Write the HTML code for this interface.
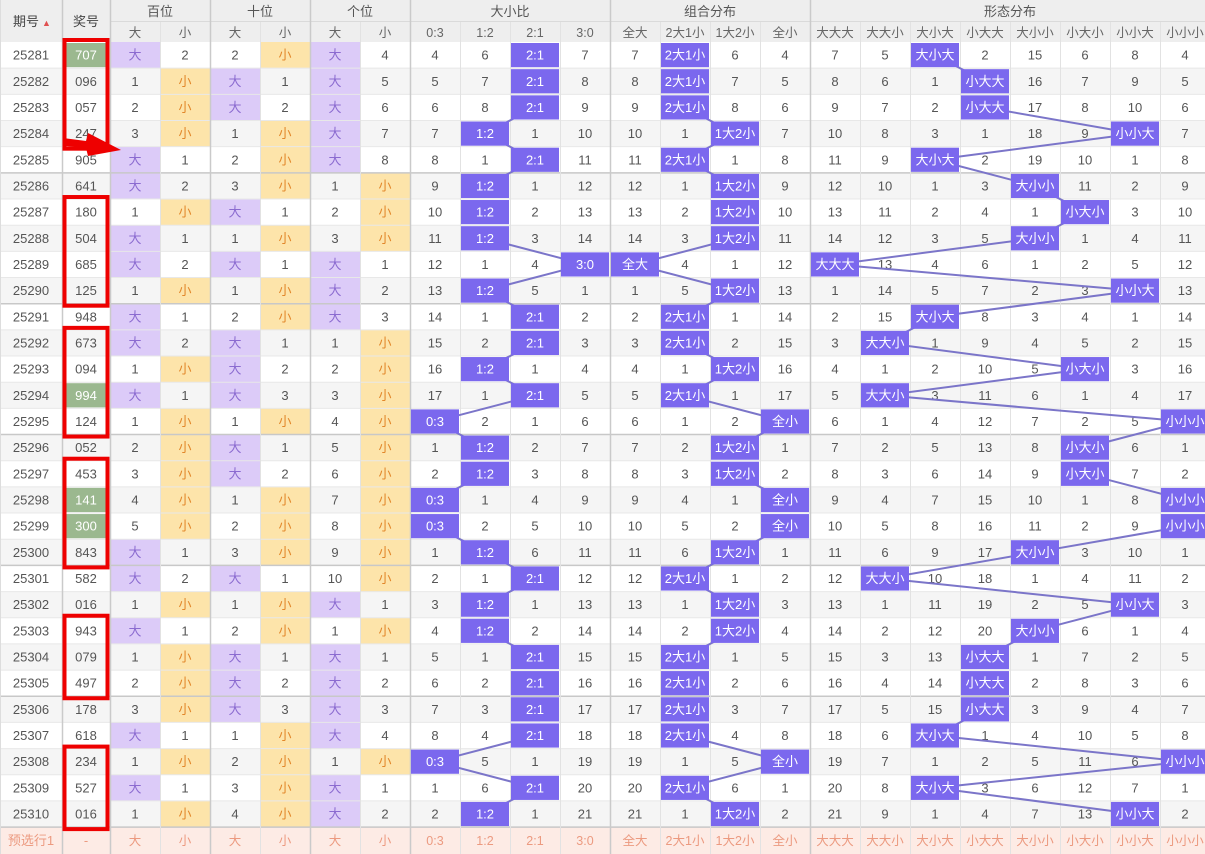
<!DOCTYPE html>
<html><head><meta charset="utf-8">
<style>
html,body{margin:0;padding:0;background:#fff;width:1205px;height:854px;overflow:hidden}
svg{display:block;font-family:"Liberation Sans","Noto Sans CJK SC",sans-serif}
</style></head>
<body>
<svg id="chart" width="1205" height="854" viewBox="0 0 1205 854"></svg>
<script>
const periods = [25281,25282,25283,25284,25285,25286,25287,25288,25289,25290,25291,25292,25293,25294,25295,25296,25297,25298,25299,25300,25301,25302,25303,25304,25305,25306,25307,25308,25309,25310];
const numbers = ["707","096","057","247","905","641","180","504","685","125","948","673","094","994","124","052","453","141","300","843","582","016","943","079","497","178","618","234","527","016"];
const posSeeds = [0,1,1,0,0,3];
const ratioSeeds = [3,5,0,6];
const comboSeeds = [6,0,5,3];
const shapeSeeds = [6,4,0,1,14,5,7,3];
const ratioLabels = ["0:3","1:2","2:1","3:0"];
const comboLabels = ["全大","2大1小","1大2小","全小"];
const shapeLabels = ["大大大","大大小","大小大","小大大","大小小","小大小","小小大","小小小"];
const redBoxes = [[0,3],[6,9],[11,14],[16,19],[22,24],[27,29]];

const NS="http://www.w3.org/2000/svg";
const svg=document.getElementById('chart');
function mk(tag,attrs,parent){const e=document.createElementNS(NS,tag);for(const k in attrs)e.setAttribute(k,attrs[k]);(parent||svg).appendChild(e);return e;}
const colX=[0,62,110];
for(let i=0;i<22;i++)colX.push(110+50*(i+1));
const H0=42, RH=26.17;
const rowTop=i=>H0+i*RH;
const cx=c=>(colX[c]+colX[c+1])/2;

const hdr=mk('rect',{x:0,y:0,width:1205,height:42,fill:'#eeeeee'});


function txt(x,y,s,fill,size,name,inter){const t=mk('text',{x:x,y:y,'text-anchor':'middle','font-size':size||13,fill:fill||'#555'});t.textContent=s;return t;}
txt(26,26,'期号','#444',13,'period-header',true);
const sortIc=mk('text',{x:42,y:26,'font-size':9,fill:'#e05050'});sortIc.textContent='▲';


txt(86,26,'奖号','#444',13,'number-header');
const groups=[['百位',2,4],['十位',4,6],['个位',6,8],['大小比',8,12],['组合分布',12,16],['形态分布',16,24]];
groups.forEach(g=>{txt((colX[g[1]]+colX[g[2]])/2,16,g[0],'#555',13,'group-header');});
mk('line',{x1:110,y1:21.5,x2:1205,y2:21.5,stroke:'#dadada'});
const subLabels=['大','小','大','小','大','小'].concat(ratioLabels,comboLabels,shapeLabels);
subLabels.forEach((s,i)=>txt(cx(i+2),37,s,'#666',12.5,'sub-header'));

let om=posSeeds.concat(ratioSeeds,comboSeeds,shapeSeeds);
const hitsPerRow=[];
numbers.forEach((n,r)=>{
  const y=rowTop(r);
  const bg=mk('rect',{x:0,y:y,width:1205,height:RH,fill:r%2?'#f5f5f5':'#fff'});
  
  
  const d=n.split('').map(Number);
  const big=d.map(v=>v>=5);
  const k=big.filter(b=>b).length;
  const hits=[];
  big.forEach((b,p)=>hits.push(p*2+(b?0:1)));
  hits.push(6+k);
  hits.push(10+(3-k));
  const shape=(big[0]?'大':'小')+(big[1]?'大':'小')+(big[2]?'大':'小');
  hits.push(14+shapeLabels.indexOf(shape));
  hitsPerRow.push(hits);
  const ty=y+RH/2+4.5;
  txt(31,ty,String(periods[r]),'#555',13,'period-cell');
  const rep=new Set(d).size<3;
  if(rep){const g=mk('rect',{x:63,y:y+1,width:46,height:RH-2,fill:'#9bb88f'});}
  txt(86,ty,n,rep?'#fff':'#555',13,'number-cell');
  for(let c=0;c<22;c++){
    const isHit=hits.includes(c);
    if(isHit){om[c]=0;}else{om[c]++;}
    if(c<6){
      if(isHit){
        const isBig=c%2===0;
        const b=mk('rect',{x:colX[c+2],y:y,width:50,height:RH+0.5,fill:isBig?'#dccbf8':'#fde4aa'});
        
        
        txt(cx(c+2),ty,isBig?'大':'小',isBig?'#8b6bd0':'#e2872a',13,'position-hit-label');
      } else txt(cx(c+2),ty,String(om[c]),'#555',13,'omission-cell');
    } else if(!isHit){
      txt(cx(c+2),ty,String(om[c]),'#555',13,'omission-cell');
    }
  }
});
const py=rowTop(30);
const pb=mk('rect',{x:0,y:py,width:1205,height:854-py,fill:'#fdebe5'});


txt(31,py+18,'预选行1','#ec9a80',13,'preselect-label');
txt(86,py+18,'-','#ec9a80',13,'preselect-dash');
subLabels.forEach((s,i)=>txt(cx(i+2),py+18,s,'#ec9a80',12.5,'preselect-option',true));

for(let r=1;r<=30;r++){const y=rowTop(r);mk('line',{x1:0,y1:y,x2:1205,y2:y,stroke:r%5===0?'#c8c8c8':'#e8e8e8','stroke-width':r%5===0?1.5:1});}
const major=[62,110,210,310,410,610,810];
colX.forEach((x,i)=>{if(i===0||x>1205)return;const m=major.includes(x);mk('line',{x1:x+0.5,y1:m?0:22,x2:x+0.5,y2:854,stroke:m?'#cacaca':'#e2e2e2','stroke-width':m?1.5:1});});
mk('line',{x1:0.5,y1:0,x2:0.5,y2:854,stroke:'#dddddd'});

for(let r=1;r<numbers.length;r++){
  [3,4,5].forEach(gi=>{
    const a=hitsPerRow[r-1][gi]+2,b=hitsPerRow[r][gi]+2;
    if(a!==b){const l=mk('line',{x1:cx(a),y1:rowTop(r-1)+RH/2,x2:cx(b),y2:rowTop(r)+RH/2,stroke:'#7b75c9','stroke-width':2});}
  });
}
hitsPerRow.forEach((h,r)=>{
  const y=rowTop(r);
  [3,4,5].forEach(gi=>{
    const c=h[gi];
    const lab=c<10?ratioLabels[c-6]:c<14?comboLabels[c-10]:shapeLabels[c-14];
    const b=mk('rect',{x:colX[c+2]+1,y:y+1,width:48,height:RH-2,fill:'#7b68ee'});
    
    
    txt(cx(c+2),y+RH/2+4.5,lab,'#fff',13,'distribution-hit-label');
  });
});
redBoxes.forEach(bx=>{
  const y1=rowTop(bx[0])-2,y2=rowTop(bx[1]+1)+2;
  const rb=mk('rect',{x:64.5,y:y1,width:43,height:y2-y1,fill:'none',stroke:'#ee0000','stroke-width':4});
  
  
});
const ar=mk('polygon',{points:'63,138 86,141 88,133 121,150 88,156 86,148 63,146',fill:'#ee0000'});


</script>
</body></html>
